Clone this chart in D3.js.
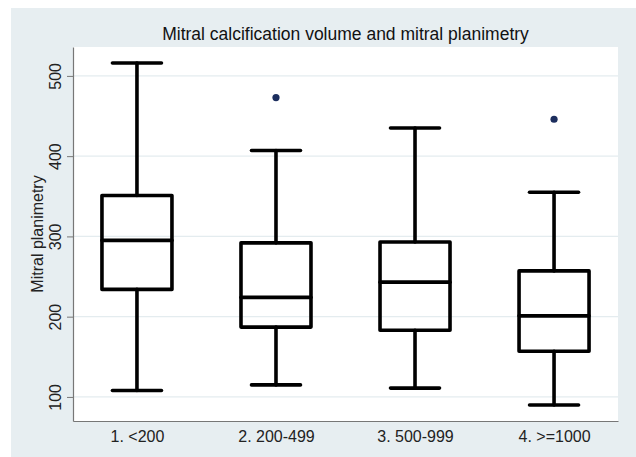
<!DOCTYPE html>
<html>
<head>
<meta charset="utf-8">
<script src="https://cdn.jsdelivr.net/npm/d3@7"></script>
<style>
  body { margin: 0; background: #fff; }
  svg { display: block; font-family: "Liberation Sans", Arial, sans-serif; }
</style>
</head>
<body>
<svg id="chart"></svg>
<script>
const categories = ["1. <200", "2. 200-499", "3. 500-999", "4. >=1000"];
const lowerWhisker = [108, 115, 111, 90];
const q1 = [234, 187, 183, 157];
const median = [295, 224, 243, 201];
const q3 = [351, 292, 293, 257];
const upperWhisker = [516, 407, 435, 355];
const outliers = [[], [473], [], [446]];
const yTicks = [100, 200, 300, 400, 500];

const width = 636;
const height = 457;
const margin = { top: 47, right: 18, bottom: 36, left: 73 };
const innerWidth = width - margin.left - margin.right;
const innerHeight = height - margin.top - margin.bottom;

const data = categories.map((c, i) => ({
  label: c,
  lo: lowerWhisker[i],
  q1: q1[i],
  med: median[i],
  q3: q3[i],
  hi: upperWhisker[i],
  out: outliers[i],
}));

const svg = d3.select("#chart").attr("width", width).attr("height", height);

// outer background
svg.append("rect")
  .attr("x", 11).attr("y", 8)
  .attr("width", width - 11).attr("height", height - 8)
  .attr("fill", "#e7eef1");

svg.append("text")
  .attr("x", margin.left + innerWidth / 2)
  .attr("y", 40)
  .attr("text-anchor", "middle")
  .attr("font-size", 17.5)
  .attr("fill", "#111")
  .text("Mitral calcification volume and mitral planimetry");

const chart = svg.append("g")
  .attr("transform", `translate(${margin.left}, ${margin.top})`);

chart.append("rect")
  .attr("width", innerWidth).attr("height", innerHeight)
  .attr("fill", "#fff");

const xscale = d3.scalePoint().domain(categories).range([0, innerWidth]).padding(0.46);
const yscale = d3.scaleLinear().domain([70, 536]).range([innerHeight, 0]);

// gridlines
chart.append("g")
  .selectAll("line")
  .data(yTicks)
  .join("line")
  .attr("x1", 0).attr("x2", innerWidth)
  .attr("y1", (d) => yscale(d)).attr("y2", (d) => yscale(d))
  .attr("stroke", "#e4ecef").attr("stroke-width", 1.2);

// axes
const yaxis = d3.axisLeft(yscale).tickValues(yTicks).tickSize(6).tickSizeOuter(0);
const yaxisGroup = chart.append("g").call(yaxis);
yaxisGroup.select(".domain").attr("stroke", "#777").attr("stroke-width", 1.2);
yaxisGroup.selectAll(".tick line").attr("stroke", "#777");
yaxisGroup.selectAll(".tick text")
  .attr("font-size", 16).attr("fill", "#222")
  .attr("x", 0).attr("dy", 0)
  .attr("text-anchor", "middle")
  .attr("transform", "translate(-12,0) rotate(-90)");

const xaxis = d3.axisBottom(xscale).tickSize(0).tickSizeOuter(0);
const xaxisGroup = chart.append("g")
  .attr("transform", `translate(0, ${innerHeight})`)
  .call(xaxis);
xaxisGroup.select(".domain").attr("stroke", "#777").attr("stroke-width", 1.2);
xaxisGroup.selectAll(".tick text")
  .attr("font-size", 16).attr("fill", "#222").attr("dy", 0).attr("y", 21);

svg.append("text")
  .attr("transform", `translate(43, ${margin.top + innerHeight / 2}) rotate(-90)`)
  .attr("text-anchor", "middle")
  .attr("font-size", 16)
  .attr("fill", "#222")
  .text("Mitral planimetry");

// boxes
const boxWidth = 70;
const capWidth = 49;
const sw = 3.6;
const boxes = chart.append("g")
  .attr("fill", "none").attr("stroke", "#000")
  .attr("stroke-width", sw).attr("stroke-linejoin", "round").attr("stroke-linecap", "round")
  .selectAll("g")
  .data(data)
  .join("g")
  .attr("transform", (d) => `translate(${xscale(d.label)}, 0)`);

boxes.append("line")
  .attr("y1", (d) => yscale(d.hi)).attr("y2", (d) => yscale(d.q3));
boxes.append("line")
  .attr("y1", (d) => yscale(d.q1)).attr("y2", (d) => yscale(d.lo));
boxes.append("line")
  .attr("x1", -capWidth / 2).attr("x2", capWidth / 2)
  .attr("y1", (d) => yscale(d.hi)).attr("y2", (d) => yscale(d.hi));
boxes.append("line")
  .attr("x1", -capWidth / 2).attr("x2", capWidth / 2)
  .attr("y1", (d) => yscale(d.lo)).attr("y2", (d) => yscale(d.lo));
boxes.append("rect")
  .attr("x", -boxWidth / 2).attr("width", boxWidth)
  .attr("y", (d) => yscale(d.q3))
  .attr("height", (d) => yscale(d.q1) - yscale(d.q3));
boxes.append("line")
  .attr("x1", -boxWidth / 2).attr("x2", boxWidth / 2)
  .attr("y1", (d) => yscale(d.med)).attr("y2", (d) => yscale(d.med));

boxes.selectAll("circle")
  .data((d) => d.out)
  .join("circle")
  .attr("r", 3.6)
  .attr("cy", (d) => yscale(d))
  .attr("fill", "#1c2e5e").attr("stroke", "none");
</script>
</body>
</html>
